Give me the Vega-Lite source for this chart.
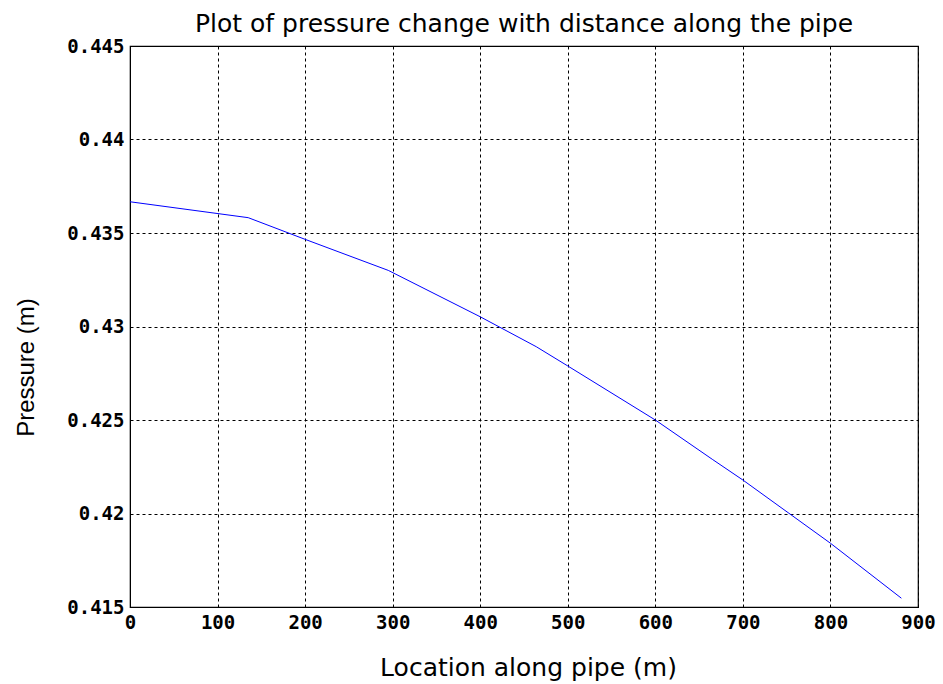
{
  "$schema": "https://vega.github.io/schema/vega-lite/v6.json",
  "autosize": {"type": "none"},
  "width": 788,
  "height": 561,
  "padding": {"left": 130, "top": 46, "right": 25, "bottom": 77},
  "background": "white",
  "title": {
    "text": "Plot of pressure change with distance along the pipe",
    "font": "DejaVu Sans",
    "fontSize": 25,
    "fontWeight": "normal",
    "color": "black",
    "anchor": "middle",
    "baseline": "alphabetic",
    "offset": 9,
    "dy": 29
  },
  "config": {
    "view": {"stroke": "black", "strokeWidth": 1.2}
  },
  "data": {
    "values": [
      {"x": 0, "p": 0.43667},
      {"x": 135, "p": 0.43582},
      {"x": 200, "p": 0.43466},
      {"x": 295, "p": 0.43300},
      {"x": 400, "p": 0.43052},
      {"x": 464, "p": 0.42892},
      {"x": 500, "p": 0.42789},
      {"x": 600, "p": 0.42500},
      {"x": 665, "p": 0.42290},
      {"x": 700, "p": 0.42179},
      {"x": 800, "p": 0.41841},
      {"x": 881, "p": 0.41547}
    ]
  },
  "mark": {"type": "line", "color": "#0000ff", "strokeWidth": 1},
  "encoding": {
    "x": {
      "field": "x",
      "type": "quantitative",
      "scale": {"domain": [0, 900], "nice": false, "zero": false},
      "axis": {
        "title": "Location along pipe (m)",
        "values": [0, 100, 200, 300, 400, 500, 600, 700, 800, 900],
        "ticks": false,
        "tickSize": 0,
        "domain": true,
        "domainColor": "black",
        "grid": true,
        "gridColor": "black",
        "gridDash": [3, 3],
        "gridOpacity": 1,
        "gridWidth": 1,
        "labelFont": "DejaVu Sans Mono",
        "labelFontWeight": "bold",
        "labelFontSize": 19,
        "labelColor": "black",
        "labelPadding": 6,
        "labelFlush": false,
        "labelOverlap": false,
        "titleFont": "DejaVu Sans",
        "titleFontSize": 25,
        "titleFontWeight": "normal",
        "titleColor": "black",
        "titleBaseline": "alphabetic",
        "titleX": 398,
        "titleY": 68
      }
    },
    "y": {
      "field": "p",
      "type": "quantitative",
      "scale": {"domain": [0.415, 0.445], "nice": false, "zero": false},
      "axis": {
        "title": "Pressure (m)",
        "values": [0.415, 0.42, 0.425, 0.43, 0.435, 0.44, 0.445],
        "format": ".3~f",
        "ticks": false,
        "tickSize": 0,
        "domain": true,
        "domainColor": "black",
        "grid": true,
        "gridColor": "black",
        "gridDash": [3, 3],
        "gridOpacity": 1,
        "gridWidth": 1,
        "labelFont": "DejaVu Sans Mono",
        "labelFontWeight": "bold",
        "labelFontSize": 19,
        "labelColor": "black",
        "labelPadding": 6,
        "labelFlush": false,
        "labelOverlap": false,
        "titleFont": "Liberation Sans",
        "titleFontSize": 24,
        "titleFontWeight": "normal",
        "titleColor": "black",
        "titleAngle": -90,
        "titleAlign": "center",
        "titleBaseline": "alphabetic",
        "titleX": -97,
        "titleY": 321
      }
    }
  }
}
